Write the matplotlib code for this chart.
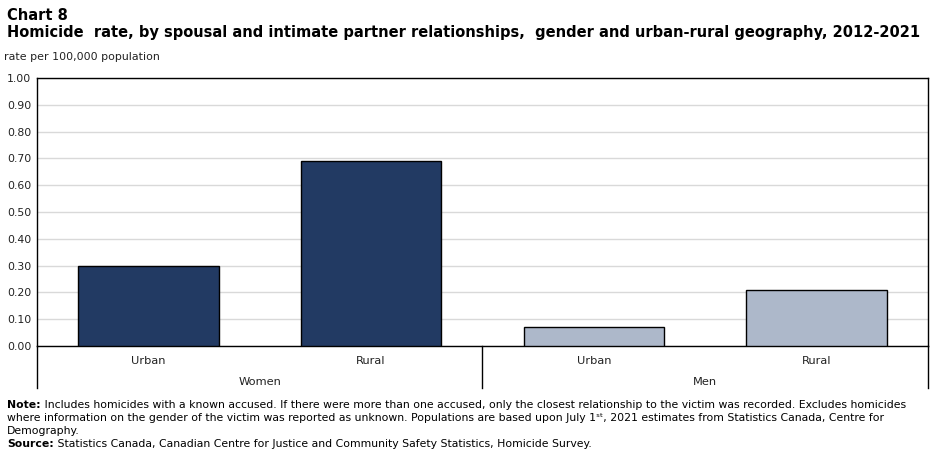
import numpy as np
import matplotlib.pyplot as plt

# data
genders    = ['Women', 'Men']
geography  = ['Urban', 'Rural']
women_rate = [0.30, 0.69]
men_rate   = [0.07, 0.21]
yticks     = np.arange(0, 1.01, 0.1)

dark  = '#223a63'
light = '#adb8ca'

W, H = 937, 454
fig = plt.figure(figsize=(W/100, H/100), dpi=100)
plt.rcParams['font.family'] = 'DejaVu Sans'

# plot area in pixels
x0, x1, y0, y1 = 37, 928, 78, 346
ax = fig.add_axes([x0/W, 1-y1/H, (x1-x0)/W, (y1-y0)/H])

rates  = women_rate + men_rate
colors = [dark]*len(women_rate) + [light]*len(men_rate)
pos    = np.arange(len(rates))
ax.bar(pos, rates, width=0.63, color=colors, edgecolor='black', linewidth=1, zorder=3)

ax.set_xlim(-0.5, len(rates)-0.5)
ax.set_ylim(0, 1.0)
ax.set_yticks(yticks)
ax.set_yticklabels(['%.2f' % v for v in yticks], fontsize=7.8, color='#222222')
ax.tick_params(axis='y', length=0, pad=4)
ax.tick_params(axis='x', length=0)
ax.set_xticks([])
ax.grid(axis='y', color='#d9d9d9', linewidth=1, zorder=0)
for s in ['top', 'right', 'left', 'bottom']:
    ax.spines[s].set_color('black')
    ax.spines[s].set_linewidth(1)

# category labels below axis
tr = ax.get_xaxis_transform()
labels = geography + geography
for p, lab in zip(pos, labels):
    ax.text(p, -0.055, lab, transform=tr, ha='center', va='center', fontsize=8.2, color='#222222')
ax.text(0.5, -0.135, genders[0], transform=tr, ha='center', va='center', fontsize=8.2, color='#222222')
ax.text(2.5, -0.135, genders[1], transform=tr, ha='center', va='center', fontsize=8.2, color='#222222')
depth = -(388-346)/(y1-y0)
for xl in [-0.5, 1.5, 3.5]:
    ax.plot([xl, xl], [0, depth], transform=tr, color='black', linewidth=1, clip_on=False)

# titles
fig.text(7/W, 1-15/H, 'Chart 8', fontsize=10.5, fontweight='bold', va='center')
fig.text(7/W, 1-33/H, 'Homicide  rate, by spousal and intimate partner relationships,  gender and urban-rural geography, 2012-2021',
         fontsize=10.5, fontweight='bold', va='center')
fig.text(4/W, 1-57/H, 'rate per 100,000 population', fontsize=7.9, va='center', color='#222222')

# notes
fs = 7.8
def lead(y, bold, rest):
    t = fig.text(7/W, 1-y/H, bold, fontsize=fs, fontweight='bold', va='center')
    ax.annotate(' ' + rest, xy=(1, 0.5), xycoords=t, va='center', fontsize=fs, annotation_clip=False)

lead(405, 'Note:', 'Includes homicides with a known accused. If there were more than one accused, only the closest relationship to the victim was recorded. Excludes homicides')
fig.text(7/W, 1-418/H, 'where information on the gender of the victim was reported as unknown. Populations are based upon July 1ˢᵗ, 2021 estimates from Statistics Canada, Centre for', fontsize=fs, va='center')
fig.text(7/W, 1-431/H, 'Demography.', fontsize=fs, va='center')
lead(444, 'Source:', 'Statistics Canada, Canadian Centre for Justice and Community Safety Statistics, Homicide Survey.')

fig.savefig('out.png', dpi=100)
